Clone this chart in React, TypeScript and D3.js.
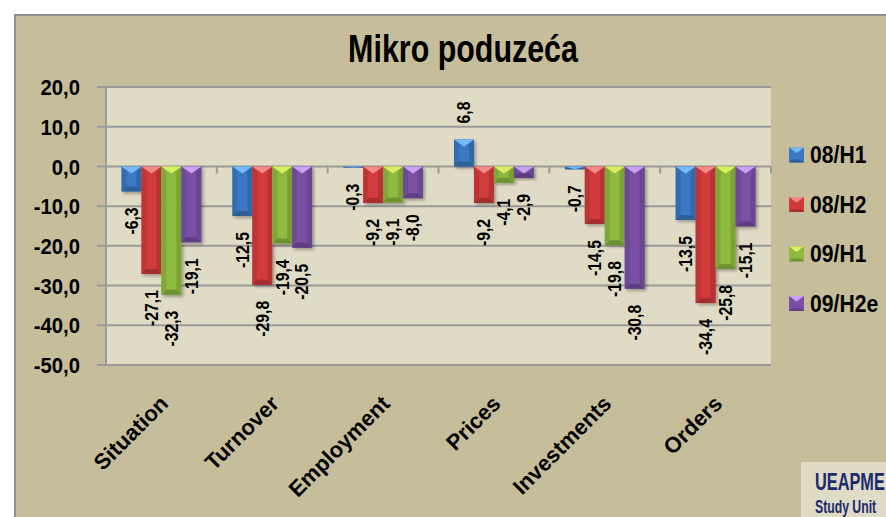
import React from "react";
import * as d3 from "d3";

const title = "Mikro  poduzeća";
const categories = ["Situation", "Turnover", "Employment", "Prices", "Investments", "Orders"];
const seriesNames = ["08/H1", "08/H2", "09/H1", "09/H2e"];
const values0801 = [-6.3, -12.5, -0.3, 6.8, -0.7, -13.5];
const values0802 = [-27.1, -29.8, -9.2, -9.2, -14.5, -34.4];
const values0901 = [-32.3, -19.4, -9.1, -4.1, -19.8, -25.8];
const values0902e = [-19.1, -20.5, -8.0, -2.9, -30.8, -15.1];
const yTicks = [20, 10, 0, -10, -20, -30, -40, -50];

const seriesValues = [values0801, values0802, values0901, values0902e];
const colors = ["#3A78C4", "#D23A3A", "#8EBA3F", "#7A50A6"];
const topColors = ["#74BCF6", "#F28A8A", "#D9F062", "#C9A2F2"];

const locale = d3.formatLocale({
  decimal: ",",
  thousands: ".",
  grouping: [3],
  currency: ["", ""],
  minus: "-",
});
const fmt = locale.format(".1f");

const W = 886;
const H = 517;
const plot = { left: 106, right: 771, top: 87, bottom: 365 };
const FONT = "'Liberation Sans', Arial, sans-serif";

export default function App() {
  const y = d3.scaleLinear().domain([-50, 20]).range([plot.bottom, plot.top]);
  const x0 = d3.scaleBand<string>().domain(categories).range([plot.left, plot.right]).padding(0);
  const bw = x0.bandwidth();
  const x1 = d3.scaleBand<string>().domain(seriesNames).range([bw * 0.14, bw * 0.86]).padding(0);
  const barW = x1.bandwidth();
  const y0 = y(0);

  const bars: any[] = [];
  categories.forEach((c, ci) => {
    seriesNames.forEach((s, si) => {
      const v = seriesValues[si][ci];
      const bx = (x0(c) as number) + (x1(s) as number);
      const top = Math.min(y(v), y0);
      const bot = Math.max(y(v), y0);
      bars.push({ c, s, si, v, bx, top, bot, h: bot - top });
    });
  });

  return (
    <svg
      width={W}
      height={H}
      style={{ position: "absolute", left: 0, top: 0, background: "#ffffff" }}
      fontFamily={FONT}
    >
      <defs>
        <filter id="shadow" x="-30%" y="-10%" width="160%" height="130%">
          <feDropShadow dx="2" dy="2" stdDeviation="1.5" floodColor="#000" floodOpacity="0.3" />
        </filter>
      </defs>
      {/* outer frame */}
      <rect x={15} y={15} width={W} height={H} fill="#C6BE9A" stroke="#8f8f8f" strokeWidth={2} />
      {/* title */}
      <text
        transform="translate(463,62) scale(0.79,1)"
        textAnchor="middle"
        fontSize={38.5}
        fontWeight="bold"
        fill="#000"
      >
        {title}
      </text>
      {/* plot area */}
      <rect
        x={plot.left}
        y={plot.top}
        width={plot.right - plot.left}
        height={plot.bottom - plot.top}
        fill="#DFDBC5"
      />
      {/* gridlines */}
      {yTicks.map((t) => (
        <line
          key={"g" + t}
          x1={plot.left - 9}
          x2={plot.right}
          y1={y(t)}
          y2={y(t)}
          stroke="#9a9a9a"
          strokeWidth={2}
        />
      ))}
      <line x1={plot.left} x2={plot.left} y1={plot.top} y2={plot.bottom} stroke="#9a9a9a" strokeWidth={2} />
      {/* category ticks on zero line */}
      {categories.map((c) => (
        <line
          key={"ct" + c}
          x1={(x0(c) as number) + bw}
          x2={(x0(c) as number) + bw}
          y1={y0}
          y2={y0 + 7}
          stroke="#9a9a9a"
          strokeWidth={2}
        />
      ))}
      {/* y tick labels */}
      {yTicks.map((t) => (
        <text
          key={"yl" + t}
          transform={`translate(80,${y(t)}) scale(0.9,1)`}
          dy="0.36em"
          textAnchor="end"
          fontSize={22.5}
          fontWeight="bold"
          fill="#000"
        >
          {fmt(t)}
        </text>
      ))}
      {/* bars */}
      {bars.map((b) => {
        const bev = Math.min(5, b.h / 2, barW / 2);
        const { bx, top, bot } = b;
        const col = colors[b.si];
        const dark = d3.color(col)!.darker(0.5).formatHex();
        const darker = d3.color(col)!.darker(0.9).formatHex();
        return (
          <g key={b.c + b.s} filter="url(#shadow)">
            <rect x={bx} y={top} width={barW} height={b.h} fill={col} />
            <polygon
              points={`${bx},${top} ${bx + bev},${top + bev} ${bx + bev},${bot - bev} ${bx},${bot}`}
              fill={dark}
              opacity={0.6}
            />
            <polygon
              points={`${bx + barW},${top} ${bx + barW - bev},${top + bev} ${bx + barW - bev},${bot - bev} ${bx + barW},${bot}`}
              fill={dark}
              opacity={0.8}
            />
            <polygon
              points={`${bx},${bot} ${bx + bev},${bot - bev} ${bx + barW - bev},${bot - bev} ${bx + barW},${bot}`}
              fill={darker}
              opacity={0.8}
            />
            <polygon
              points={`${bx},${top} ${bx + barW},${top} ${bx + barW / 2},${top + Math.min(7, b.h)}`}
              fill={topColors[b.si]}
            />
          </g>
        );
      })}
      {/* data labels */}
      {bars.map((b) => {
        const cx = b.bx + barW / 2;
        const neg = b.v < 0;
        const ly = neg ? y(b.v) + 16 : y(b.v) - 16;
        return (
          <text
            key={"dl" + b.c + b.s}
            transform={`translate(${cx},${ly}) rotate(-90) scale(0.9,1)`}
            dy="0.36em"
            textAnchor={neg ? "end" : "start"}
            fontSize={17.5}
            fontWeight="bold"
            fill="#000"
          >
            {fmt(b.v)}
          </text>
        );
      })}
      {/* category labels */}
      {categories.map((c) => (
        <text
          key={"cl" + c}
          transform={`translate(${(x0(c) as number) + bw / 2 + 8},${405}) rotate(-45)`}
          textAnchor="end"
          fontSize={22}
          fontWeight="bold"
          fill="#000"
        >
          {c}
        </text>
      ))}
      {/* legend */}
      {seriesNames.map((s, i) => {
        const ly = 155 + i * 49.5;
        const col = colors[i];
        const dark = d3.color(col)!.darker(0.6).formatHex();
        return (
          <g key={"lg" + s}>
            <rect x={789} y={ly - 7.5} width={15} height={15} fill={col} />
            <polygon points={`789,${ly + 7.5} 792,${ly + 4.5} 801,${ly + 4.5} 804,${ly + 7.5}`} fill={dark} />
            <polygon points={`789,${ly - 7.5} 804,${ly - 7.5} 796.5,${ly - 2}`} fill={topColors[i]} />
            <text
              transform={`translate(810,${ly}) scale(0.92,1)`}
              dy="0.36em"
              fontSize={23}
              fontWeight="bold"
              fill="#000"
            >
              {s}
            </text>
          </g>
        );
      })}
      {/* logo box */}
      <rect x={801} y={462} width={100} height={60} fill="#DFDBC5" />
      <text
        transform="translate(815,490) scale(0.68,1)"
        fontSize={24}
        fontWeight="bold"
        fill="#1B2A6B"
      >
        UEAPME
      </text>
      <text
        transform="translate(815,513) scale(0.68,1)"
        fontSize={18}
        fontWeight="bold"
        fill="#1B2A6B"
      >
        Study Unit
      </text>
    </svg>
  );
}
